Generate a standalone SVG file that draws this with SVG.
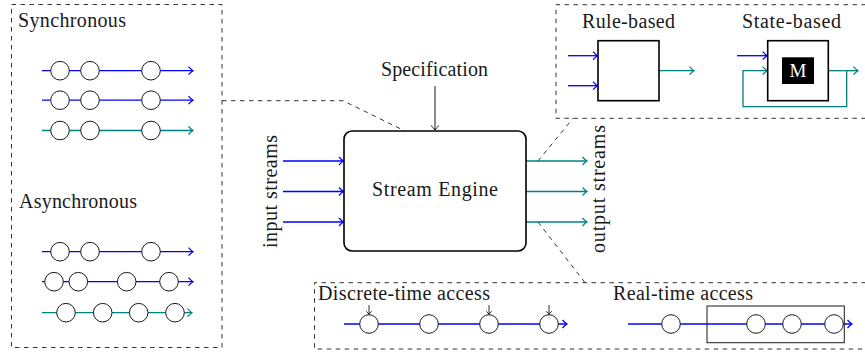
<svg xmlns="http://www.w3.org/2000/svg" width="865" height="352" viewBox="0 0 865 352" font-family="'Liberation Serif', 'DejaVu Serif', serif">
  <style>
    text { font-family: "Liberation Serif", "DejaVu Serif", serif; font-size: 20px; fill: #1a1a1a; }
    .panel { fill: none; stroke: #333; stroke-width: 1; stroke-dasharray: 4.5 4.5; }
    .blue { fill: none; stroke: #0000ff; stroke-width: 1.3; marker-end: url(#arrow-blue); }
    .teal { fill: none; stroke: #008080; stroke-width: 1.3; marker-end: url(#arrow-teal); }
    .ev { fill: #fff; stroke: #1a1a1a; stroke-width: 1; }
    .box { fill: #fff; stroke: #000; stroke-width: 1.6; }
    .thin { fill: none; stroke: #1a1a1a; stroke-width: 1; }
    .tick { fill: none; stroke: #1a1a1a; stroke-width: 0.9; marker-end: url(#arrow-small); }
  </style>
  <defs>
    <marker id="arrow-blue" markerUnits="userSpaceOnUse" orient="auto" refX="0" refY="0" overflow="visible">
      <path d="M-4.5,-4 Q-1.8,-1 0,0 Q-1.8,1 -4.5,4" fill="none" stroke="#0000ff" stroke-width="1.2"/>
    </marker>
    <marker id="arrow-teal" markerUnits="userSpaceOnUse" orient="auto" refX="0" refY="0" overflow="visible">
      <path d="M-4.5,-4 Q-1.8,-1 0,0 Q-1.8,1 -4.5,4" fill="none" stroke="#008080" stroke-width="1.2"/>
    </marker>
    <marker id="arrow-black" markerUnits="userSpaceOnUse" orient="auto" refX="0" refY="0" overflow="visible">
      <path d="M-4.5,-4 Q-1.8,-1 0,0 Q-1.8,1 -4.5,4" fill="none" stroke="#1a1a1a" stroke-width="1"/>
    </marker>
    <marker id="arrow-small" markerUnits="userSpaceOnUse" orient="auto" refX="0" refY="0" overflow="visible">
      <path d="M-3,-2.8 Q-1.2,-0.7 0,0 Q-1.2,0.7 -3,2.8" fill="none" stroke="#1a1a1a" stroke-width="0.9"/>
    </marker>
  </defs>

  <!-- dashed panels and dashed zoom connectors -->
  <g id="connectors">
    <rect class="panel" x="11.5" y="4.5" width="210.5" height="343"/>
    <path class="panel" d="M866,4.7 H556 V118.3 H866"/>
    <path class="panel" d="M866,282.7 H314.5 V349 H866"/>
    <path class="panel" d="M222,100.7 H343 L405,131"/>
    <path class="panel" d="M538,161 L573,118.3"/>
    <path class="panel" d="M538,222 L585,282.7"/>
    <!-- specification into engine -->
    <path d="M435,86 V130" fill="none" stroke="#1a1a1a" stroke-width="1" marker-end="url(#arrow-black)"/>
    <!-- input streams -->
    <path class="blue" d="M283,161 H343.5"/>
    <path class="blue" d="M283,191.5 H343.5"/>
    <path class="blue" d="M283,222 H343.5"/>
    <!-- output streams -->
    <path class="teal" d="M526,161 H587"/>
    <path class="teal" d="M526,191.5 H587"/>
    <path class="teal" d="M526,222 H587"/>
  </g>

  <!-- synchronous streams -->
  <g id="synchronous">
    <text x="18" y="26.7" textLength="108" lengthAdjust="spacing">Synchronous</text>
    <path class="blue" d="M42,70.7 H193"/>
    <path class="blue" d="M42,100.2 H193"/>
    <path class="teal" d="M42,130.5 H193"/>
    <circle class="ev" cx="60" cy="70.7" r="9.3"/>
    <circle class="ev" cx="90" cy="70.7" r="9.3"/>
    <circle class="ev" cx="151" cy="70.7" r="9.3"/>
    <circle class="ev" cx="60" cy="100.2" r="9.3"/>
    <circle class="ev" cx="90" cy="100.2" r="9.3"/>
    <circle class="ev" cx="151" cy="100.2" r="9.3"/>
    <circle class="ev" cx="60" cy="130.5" r="9.3"/>
    <circle class="ev" cx="90" cy="130.5" r="9.3"/>
    <circle class="ev" cx="151" cy="130.5" r="9.3"/>
  </g>

  <!-- asynchronous streams -->
  <g id="asynchronous">
    <text x="19" y="208" textLength="118" lengthAdjust="spacing">Asynchronous</text>
    <path class="blue" d="M42,251.7 H193"/>
    <path class="blue" d="M42,281.7 H193"/>
    <path class="teal" d="M42,312.7 H192"/>
    <circle class="ev" cx="60" cy="251.7" r="9.3"/>
    <circle class="ev" cx="90" cy="251.7" r="9.3"/>
    <circle class="ev" cx="151" cy="251.7" r="9.3"/>
    <circle class="ev" cx="54" cy="281.7" r="9.3"/>
    <circle class="ev" cx="78.3" cy="281.7" r="9.3"/>
    <circle class="ev" cx="126.7" cy="281.7" r="9.3"/>
    <circle class="ev" cx="169" cy="281.7" r="9.3"/>
    <circle class="ev" cx="66" cy="312.7" r="9.3"/>
    <circle class="ev" cx="102.7" cy="312.7" r="9.3"/>
    <circle class="ev" cx="138.7" cy="312.7" r="9.3"/>
    <circle class="ev" cx="175" cy="312.7" r="9.3"/>
  </g>

  <!-- central engine -->
  <g id="engine">
    <rect class="box" x="344" y="131" width="182" height="120" rx="8"/>
    <text x="372" y="196" textLength="126" lengthAdjust="spacing">Stream Engine</text>
  </g>
  <g id="specification">
    <text x="381" y="76" textLength="107" lengthAdjust="spacing">Specification</text>
  </g>
  <g id="input-label">
    <text transform="translate(276.5,191.5) rotate(-90)" text-anchor="middle" textLength="113" lengthAdjust="spacing">input streams</text>
  </g>
  <g id="output-label">
    <text transform="translate(604.5,189) rotate(-90)" text-anchor="middle" textLength="128" lengthAdjust="spacing">output streams</text>
  </g>

  <!-- rule-based monitor -->
  <g id="rule-based">
    <text x="582" y="28" textLength="93" lengthAdjust="spacing">Rule-based</text>
    <path class="blue" d="M568,55.7 H597.5"/>
    <path class="blue" d="M568,85.7 H597.5"/>
    <path class="teal" d="M659,70.7 H694"/>
    <rect class="box" x="598" y="40.7" width="61" height="60"/>
  </g>

  <!-- state-based monitor -->
  <g id="state-based">
    <text x="742" y="28" textLength="99" lengthAdjust="spacing">State-based</text>
    <path class="blue" d="M737,55.7 H767.2"/>
    <path class="teal" d="M846.7,70.7 V106.7 H743 V70.7 H767.2"/>
    <path class="teal" d="M828.3,70.7 H858"/>
    <rect class="box" x="767.7" y="40.7" width="60.6" height="60"/>
    <rect x="782" y="57.3" width="32" height="26.7" fill="#000"/>
    <text x="798" y="77" text-anchor="middle" style="fill:#fff;font-size:19px">M</text>
  </g>

  <!-- discrete-time access -->
  <g id="discrete-time">
    <text x="318" y="300" textLength="172" lengthAdjust="spacing">Discrete-time access</text>
    <path class="blue" d="M344,324 H567"/>
    <circle class="ev" cx="369" cy="324" r="9.3"/>
    <circle class="ev" cx="429" cy="324" r="9.3"/>
    <circle class="ev" cx="489" cy="324" r="9.3"/>
    <circle class="ev" cx="549" cy="324" r="9.3"/>
    <path class="tick" d="M369,305 V314.3"/>
    <path class="tick" d="M489,305 V314.3"/>
    <path class="tick" d="M549,305 V314.3"/>
  </g>

  <!-- real-time access -->
  <g id="real-time">
    <text x="613" y="300" textLength="140" lengthAdjust="spacing">Real-time access</text>
    <path class="blue" d="M628,324 H852"/>
    <rect class="thin" x="707" y="306" width="137.3" height="36.7"/>
    <circle class="ev" cx="671" cy="324" r="9.3"/>
    <circle class="ev" cx="756" cy="324" r="9.3"/>
    <circle class="ev" cx="792" cy="324" r="9.3"/>
    <circle class="ev" cx="834" cy="324" r="9.3"/>
  </g>
</svg>
